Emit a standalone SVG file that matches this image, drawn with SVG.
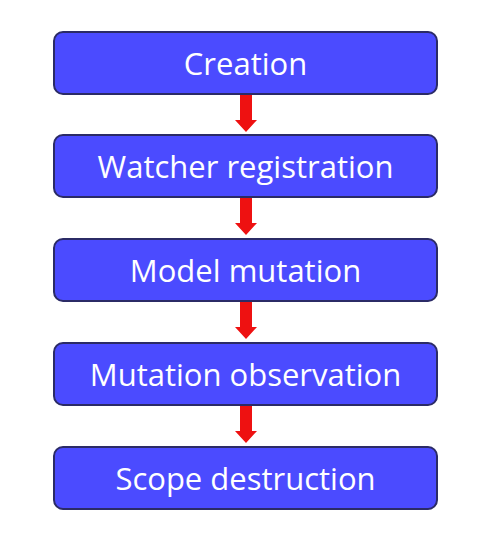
<svg xmlns="http://www.w3.org/2000/svg" width="491" height="542" viewBox="0 0 491 542">
<style>
.box{fill:#4b4bff;stroke:#2b2b66;stroke-width:2}
.lbl{fill:#ffffff;font-family:"Open Sans","Noto Sans",sans-serif;font-size:31px;text-anchor:middle}
.arr{fill:#ee1111}
</style>
<defs>
<path id="arrow" class="arr" d="M-6,0 H6 V25 H11 L0,37 L-11,25 H-6 Z"/>
</defs>
<rect width="491" height="542" fill="#ffffff"/>
<g id="connectors">
<use href="#arrow" x="246" y="95"/>
<use href="#arrow" x="246" y="198"/>
<use href="#arrow" x="246" y="302"/>
<use href="#arrow" x="246" y="406"/>
</g>
<g id="n1"><rect class="box" x="54" y="32" width="383" height="62" rx="9"/><text class="lbl" x="245.5" y="75">Creation</text></g>
<g id="n2"><rect class="box" x="54" y="135" width="383" height="62" rx="9"/><text class="lbl" x="245.5" y="178">Watcher registration</text></g>
<g id="n3"><rect class="box" x="54" y="239" width="383" height="62" rx="9"/><text class="lbl" x="245.5" y="282">Model mutation</text></g>
<g id="n4"><rect class="box" x="54" y="343" width="383" height="62" rx="9"/><text class="lbl" x="245.5" y="386">Mutation observation</text></g>
<g id="n5"><rect class="box" x="54" y="447" width="383" height="62" rx="9"/><text class="lbl" x="245.5" y="490">Scope destruction</text></g>
</svg>
